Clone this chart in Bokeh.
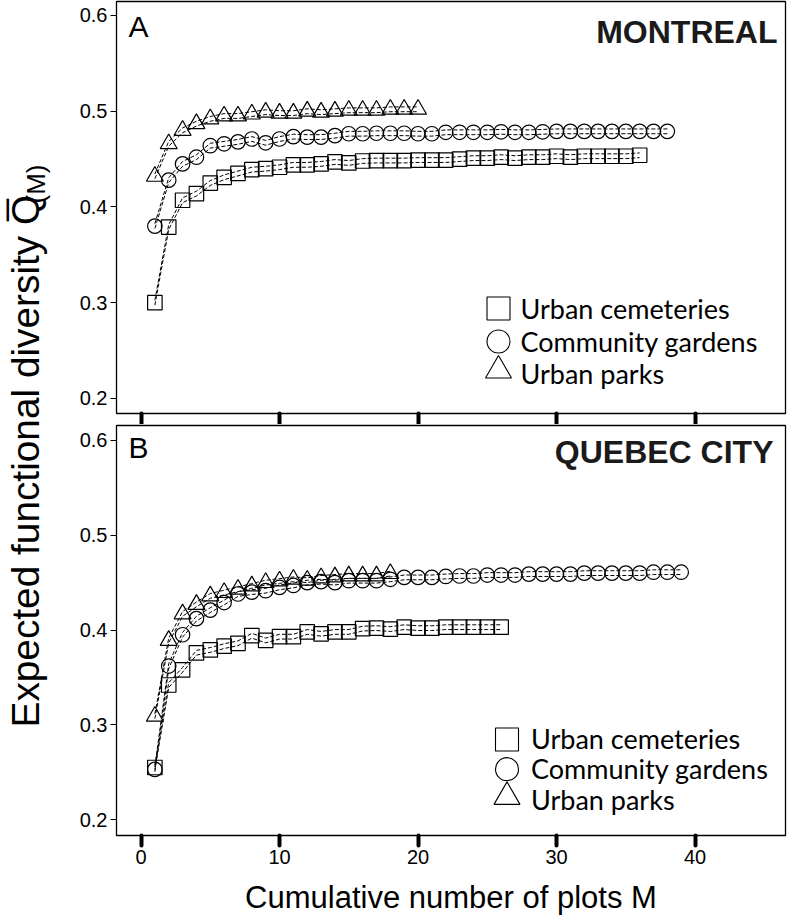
from math import pi
from bokeh.plotting import figure
from bokeh.models import Range1d, Label, FixedTicker
from bokeh.layouts import row, column
from bokeh.embed import file_html
from bokeh.resources import INLINE

# ---------------- data ----------------
M_TICKS = [0, 10, 20, 30, 40]
Q_TICKS = [0.2, 0.3, 0.4, 0.5, 0.6]
SERIES_LABELS = ["Urban cemeteries", "Community gardens", "Urban parks"]
PANEL_LETTERS = ["A", "B"]
CITIES = ["MONTREAL", "QUEBEC CITY"]
Y_TITLE = "Expected functional diversity Q\u0305"
Y_TITLE_SUB = "(M)"
X_TITLE = "Cumulative number of plots M"

# Montreal (panel A), expected functional diversity for M = 1, 2, ...
mtl_cemeteries = [0.300, 0.379, 0.407, 0.414, 0.425, 0.431, 0.435, 0.439, 0.440, 0.4415,
                  0.444, 0.444, 0.445, 0.447, 0.446, 0.448, 0.4485, 0.4485, 0.4485, 0.449,
                  0.449, 0.449, 0.450, 0.451, 0.451, 0.452, 0.451, 0.452, 0.452, 0.453,
                  0.452, 0.453, 0.453, 0.453, 0.453, 0.454]
mtl_gardens = [0.380, 0.428, 0.445, 0.452, 0.464, 0.466, 0.468, 0.471, 0.467, 0.471,
               0.4735, 0.473, 0.473, 0.4745, 0.4765, 0.4765, 0.477, 0.477, 0.477, 0.4765,
               0.4765, 0.478, 0.478, 0.478, 0.478, 0.4785, 0.478, 0.478, 0.4785, 0.479,
               0.479, 0.479, 0.479, 0.479, 0.479, 0.479, 0.479, 0.479]
mtl_parks = [0.432, 0.466, 0.480, 0.487, 0.492, 0.495, 0.495, 0.497, 0.499, 0.498,
             0.498, 0.500, 0.499, 0.500, 0.501, 0.501, 0.501, 0.502, 0.502, 0.502]

# Quebec City (panel B)
qc_cemeteries = [0.255, 0.342, 0.358, 0.376, 0.379, 0.383, 0.386, 0.394, 0.389, 0.393,
                 0.393, 0.398, 0.396, 0.398, 0.398, 0.4015, 0.402, 0.401, 0.403, 0.402,
                 0.402, 0.403, 0.403, 0.403, 0.403, 0.403]
qc_gardens = [0.253, 0.362, 0.395, 0.412, 0.421, 0.429, 0.438, 0.440, 0.4415, 0.445,
              0.447, 0.450, 0.451, 0.450, 0.452, 0.452, 0.452, 0.4535, 0.4555, 0.4555,
              0.4555, 0.4565, 0.457, 0.457, 0.458, 0.458, 0.458, 0.459, 0.459, 0.459,
              0.459, 0.460, 0.460, 0.460, 0.460, 0.460, 0.461, 0.461, 0.461]
qc_parks = [0.309, 0.389, 0.417, 0.427, 0.436, 0.4395, 0.443, 0.4465, 0.450, 0.4517,
            0.4535, 0.4525, 0.455, 0.456, 0.457, 0.457, 0.457, 0.4595]

CI_HALF = 0.0025  # half-width of the dashed confidence band drawn through the markers

FONT = "Liberation Sans"
PW = 729          # panel width
BL, BR = 56, 4    # left / right borders
FW = PW - BL - BR
xr = Range1d(-1.77, 46.53)

MARKERS = ["square", "circle", "triangle"]
SIZES = [14.5, 14.5, 17]
LEG_SIZES = [23, 23, 26]


def make_panel(series, height, b_top, b_bottom, yr, letter, city,
               letter_drop, city_drop, city_inset, leg_x, leg_rows, leg_text_gap,
               bottom_axis):
    p = figure(width=PW, height=height, x_range=xr, y_range=Range1d(*yr),
               output_backend="svg", toolbar_location=None,
               min_border_left=BL, min_border_right=BR,
               min_border_top=b_top, min_border_bottom=b_bottom)
    fh = height - b_top - b_bottom
    p.extra_x_ranges = {"px": Range1d(0, FW)}
    p.extra_y_ranges = {"px": Range1d(0, fh)}
    p.grid.visible = False
    p.outline_line_color = "black"
    p.outline_line_width = 1.3
    p.background_fill_color = "white"
    p.border_fill_color = "white"

    for vals, mk, sz in zip(series, MARKERS, SIZES):
        m = list(range(1, len(vals) + 1))
        lo = [v - CI_HALF for v in vals]
        hi = [v + CI_HALF for v in vals]
        p.line(m, lo, line_color="black", line_width=1, line_dash="4 2")
        p.line(m, hi, line_color="black", line_width=1, line_dash="4 2")
        p.scatter(m, vals, marker=mk, size=sz, fill_color=None,
                  line_color="black", line_width=1.2)

    # y axis
    p.yaxis.ticker = FixedTicker(ticks=Q_TICKS)
    p.yaxis.axis_line_color = None
    p.yaxis.major_tick_in = 0
    p.yaxis.major_tick_out = 6
    p.yaxis.minor_tick_line_color = None
    p.yaxis.major_label_standoff = 3
    p.yaxis.major_label_text_font = FONT
    p.yaxis.major_label_text_font_size = "20px"
    p.yaxis.major_label_text_color = "black"
    p.yaxis.major_label_overrides = {t: f"{t:.1f}" for t in Q_TICKS}

    # x axis
    p.xaxis.axis_line_color = None
    if bottom_axis:
        p.xaxis.ticker = FixedTicker(ticks=M_TICKS)
        p.xaxis.major_tick_in = 0
        p.xaxis.major_tick_out = 10
        p.xaxis.major_tick_line_width = 4
        p.xaxis.major_tick_line_cap = "round"
        p.xaxis.major_tick_line_color = "black"
        p.xaxis.minor_tick_line_color = None
        p.xaxis.major_label_standoff = 4
        p.xaxis.major_label_text_font = FONT
        p.xaxis.major_label_text_font_size = "20px"
        p.xaxis.major_label_text_color = "black"
        p.xaxis.axis_label = X_TITLE
        p.xaxis.axis_label_text_font = FONT
        p.xaxis.axis_label_text_font_size = "31px"
        p.xaxis.axis_label_text_font_style = "normal"
        p.xaxis.axis_label_text_color = "black"
        p.xaxis.axis_label_standoff = 13
    else:
        # unlabelled tick marks only
        p.xaxis.ticker = FixedTicker(ticks=[], minor_ticks=M_TICKS)
        p.xaxis.major_tick_line_color = None
        p.xaxis.minor_tick_in = 0
        p.xaxis.minor_tick_out = 10
        p.xaxis.minor_tick_line_width = 4
        p.xaxis.minor_tick_line_cap = "round"
        p.xaxis.minor_tick_line_color = "black"
        p.xaxis.major_label_standoff = 0

    p.add_layout(Label(x=12, y=fh - letter_drop, x_units="screen", y_units="screen",
                       text=letter, text_font=FONT, text_font_size="30px",
                       text_color="black", text_baseline="middle", text_align="left"))
    p.add_layout(Label(x=FW - city_inset, y=fh - city_drop, x_units="screen", y_units="screen",
                       text=city, text_font=FONT, text_font_size="32px",
                       text_font_style="bold", text_color="#1a1a1a",
                       text_baseline="middle", text_align="right"))

    # legend (drawn in pixel units of the frame)
    for lab, mk, sz, ry in zip(SERIES_LABELS, MARKERS, LEG_SIZES, leg_rows):
        yy = fh - ry
        p.scatter([leg_x], [yy + (3 if mk == "triangle" else 0)], marker=mk, size=sz,
                  fill_color=None, line_color="black", line_width=1.1,
                  x_range_name="px", y_range_name="px")
        p.add_layout(Label(x=leg_x + leg_text_gap, y=yy, x_units="screen", y_units="screen",
                           text=lab, text_font="Lato", text_font_size="27px",
                           text_color="black", text_baseline="middle", text_align="left"))
    return p


# panel A: frame 1..413 (page px), panel B: frame 425..839
pA = make_panel([mtl_cemeteries, mtl_gardens, mtl_parks], 424, 1, 11,
                (0.1843, 0.6146), PANEL_LETTERS[0], CITIES[0],
                25, 30.5, 8, 382, [307, 340, 372], 22, False)
pB = make_panel([qc_cemeteries, qc_gardens, qc_parks], 493, 1, 78,
                (0.1833, 0.6157), PANEL_LETTERS[1], CITIES[1],
                25.5, 30.5, 12, 390.5, [317, 347, 378], 24, True)

lab = figure(width=60, height=917, output_backend="svg", toolbar_location=None,
             min_border=0, x_axis_location=None, y_axis_location=None,
             outline_line_color=None)
lab.grid.visible = False
lab.add_layout(Label(x=25, y=190, x_units="screen", y_units="screen", angle=pi / 2,
                     text=Y_TITLE, text_font=FONT, text_font_size="38.8px",
                     text_color="black", text_baseline="middle", text_align="left"))
lab.add_layout(Label(x=35, y=714, x_units="screen", y_units="screen", angle=pi / 2,
                     text=Y_TITLE_SUB, text_font=FONT, text_font_size="26px",
                     text_color="black", text_baseline="middle", text_align="left"))

layout = row(lab, column(pA, pB))
open("out.html", "w").write(file_html(layout, INLINE))
